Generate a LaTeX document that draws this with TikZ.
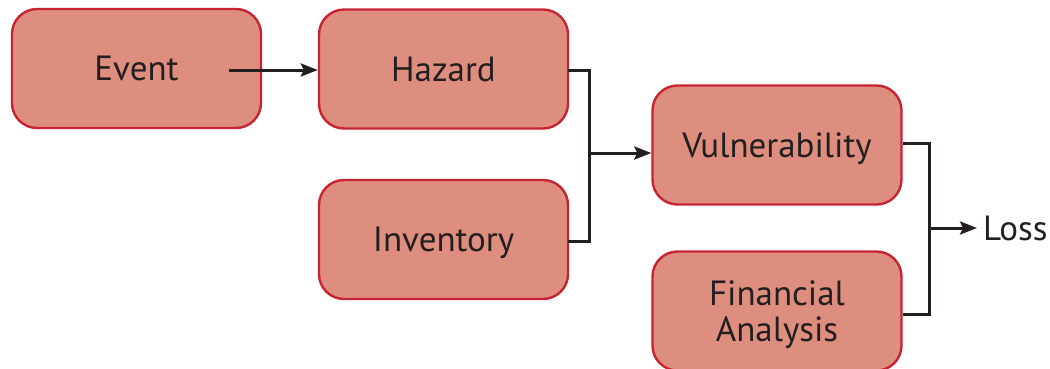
\documentclass[tikz,border=0pt]{standalone}
\usepackage{fontspec}
\setmainfont{PT Sans}
\usetikzlibrary{arrows.meta,calc}
\definecolor{boxfill}{HTML}{DE8E7F}
\definecolor{boxline}{HTML}{C82333}
\definecolor{ink}{HTML}{231F20}
\tikzset{
  stage/.style={draw=boxline, fill=boxfill, line width=2.4pt, rounded corners=25pt,
    minimum width=249pt, minimum height=119pt, text=ink, align=center,
    font=\fontsize{35}{36}\selectfont, inner sep=0pt, text height=24pt, text depth=0pt},
  link/.style={draw=ink, line width=3pt},
  arr/.style={link, -{Stealth[length=17pt,width=13pt,inset=3pt]}},
}
\begin{document}
\begin{tikzpicture}[x=1pt,y=-1pt]
\useasboundingbox (0,0) rectangle (1050,368);
\node[stage] (ev) at (136.5,68.5) {Event};
\node[stage] (hz) at (443.5,69) {Hazard};
\node[stage] (inv) at (443.5,239.5) {Inventory};
\node[stage] (vul) at (777,145) {Vulnerability};
\node[stage, text height=60pt] (fin) at (777,311) {Financial\\Analysis};
\node[anchor=west, text=ink, font=\fontsize{35}{36}\selectfont, inner sep=0pt, text height=24pt, text depth=0pt] (loss) at (983,228) {Loss};
\coordinate (evs) at (229,70);
\coordinate (j1) at (589,153);
\coordinate (j2) at (929,228);
\draw[arr] (evs) -- (hz.west |- evs);
\draw[link, line cap=rect] (hz.east |- 0,70) -| (j1) |- (inv.east |- 0,241);
\draw[arr] (j1) -- (vul.west |- j1);
\draw[link] (vul.east |- 0,143) -| (j2) |- (fin.east |- 0,314);
\draw[arr] (j2) -- ($(loss.west)+(-6,0)$);
\end{tikzpicture}
\end{document}
